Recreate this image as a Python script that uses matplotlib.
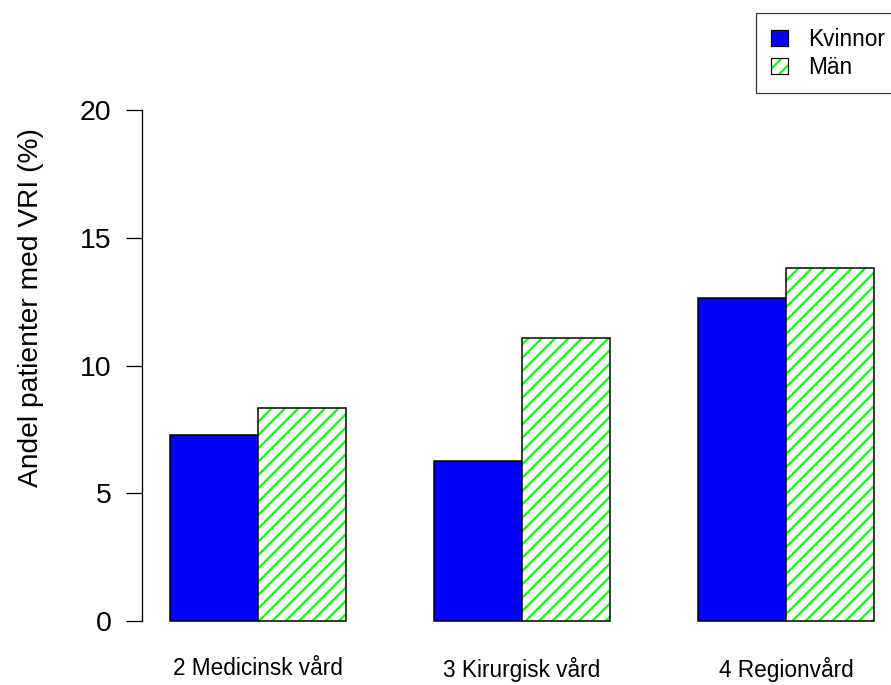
import matplotlib
matplotlib.use("Agg")
import matplotlib.pyplot as plt
from matplotlib.patches import Patch
from matplotlib.legend_handler import HandlerTuple
import numpy as np

categories = ["2 Medicinsk vård", "3 Kirurgisk vård", "4 Regionvård"]
kvinnor = [7.28, 6.26, 12.64]
man = [8.34, 11.08, 13.82]
series_names = ["Kvinnor", "Män"]
yticks = [0, 5, 10, 15, 20]

BLUE = "#0000FF"
GREEN = "#00FF00"

DPI = 80
W, H = 891, 685


def pt(px):
    """Convert a size in pixels to points at the output resolution."""
    return px * 72.0 / DPI


plt.rcParams['font.family'] = ['Liberation Sans', 'DejaVu Sans']
plt.rcParams['hatch.linewidth'] = pt(2.1)

fig = plt.figure(figsize=(W / DPI, H / DPI), dpi=DPI)

# plot region in pixels (R-style barplot layout)
left_px, right_px = 141.8, 141.8 + 760.3
top_px, bottom_px = 89.6, 641.4
ax = fig.add_axes([left_px / W, 1 - bottom_px / H,
                   (right_px - left_px) / W, (bottom_px - top_px) / H])

# beside=TRUE layout: space of 1 between groups, bar width 1
n = len(categories)
starts = np.array([1 + 3 * i for i in range(n)], dtype=float)
x_k = starts + 0.5
x_m = starts + 1.5
centers = starts + 1.0

ax.bar(x_k, kvinnor, width=1.0, color=BLUE, edgecolor="black", linewidth=pt(1.5))
ax.bar(x_m, man, width=1.0, color="white", edgecolor=GREEN, hatch="//", linewidth=0)
ax.bar(x_m, man, width=1.0, fill=False, edgecolor="black", linewidth=pt(1.5))

ax.set_xlim(0.68, 9.32)
ax.set_ylim(-0.8, 20.8)

for s in ["top", "right", "bottom"]:
    ax.spines[s].set_visible(False)
ax.spines["left"].set_bounds(0, 20)
ax.spines["left"].set_linewidth(pt(1.3))

ax.set_yticks(yticks)
ax.set_yticklabels([str(v) for v in yticks], fontsize=pt(28.5))
ax.tick_params(axis="y", length=pt(16), width=pt(1.3), pad=pt(14.5))

ax.set_xticks(centers)
ax.set_xticklabels(categories, fontsize=pt(22.6))
ax.tick_params(axis="x", length=0, pad=pt(16))

fig.text(31 / W, 1 - 308 / H, "Andel patienter med VRI (%)", rotation=90,
         ha="center", va="center", fontsize=pt(28.1))

h_k = Patch(facecolor=BLUE, edgecolor="black", linewidth=pt(1.2))
h_m = (Patch(facecolor="white", edgecolor=GREEN, hatch="//", linewidth=0),
       Patch(fill=False, edgecolor="black", linewidth=pt(1.2)))
leg = fig.legend([h_k, h_m], series_names, loc="upper left",
                 handler_map={tuple: HandlerTuple(ndivide=1, pad=0)},
                 bbox_to_anchor=(756 / W, 1 - 13 / H), fontsize=pt(22.6),
                 frameon=True, fancybox=False, borderpad=0.65,
                 handlelength=0.75, handleheight=0.75, handletextpad=0.9,
                 labelspacing=0.22, borderaxespad=0)
leg.get_frame().set_edgecolor("black")
leg.get_frame().set_linewidth(pt(1.2))

fig.savefig("out.png", dpi=DPI)
